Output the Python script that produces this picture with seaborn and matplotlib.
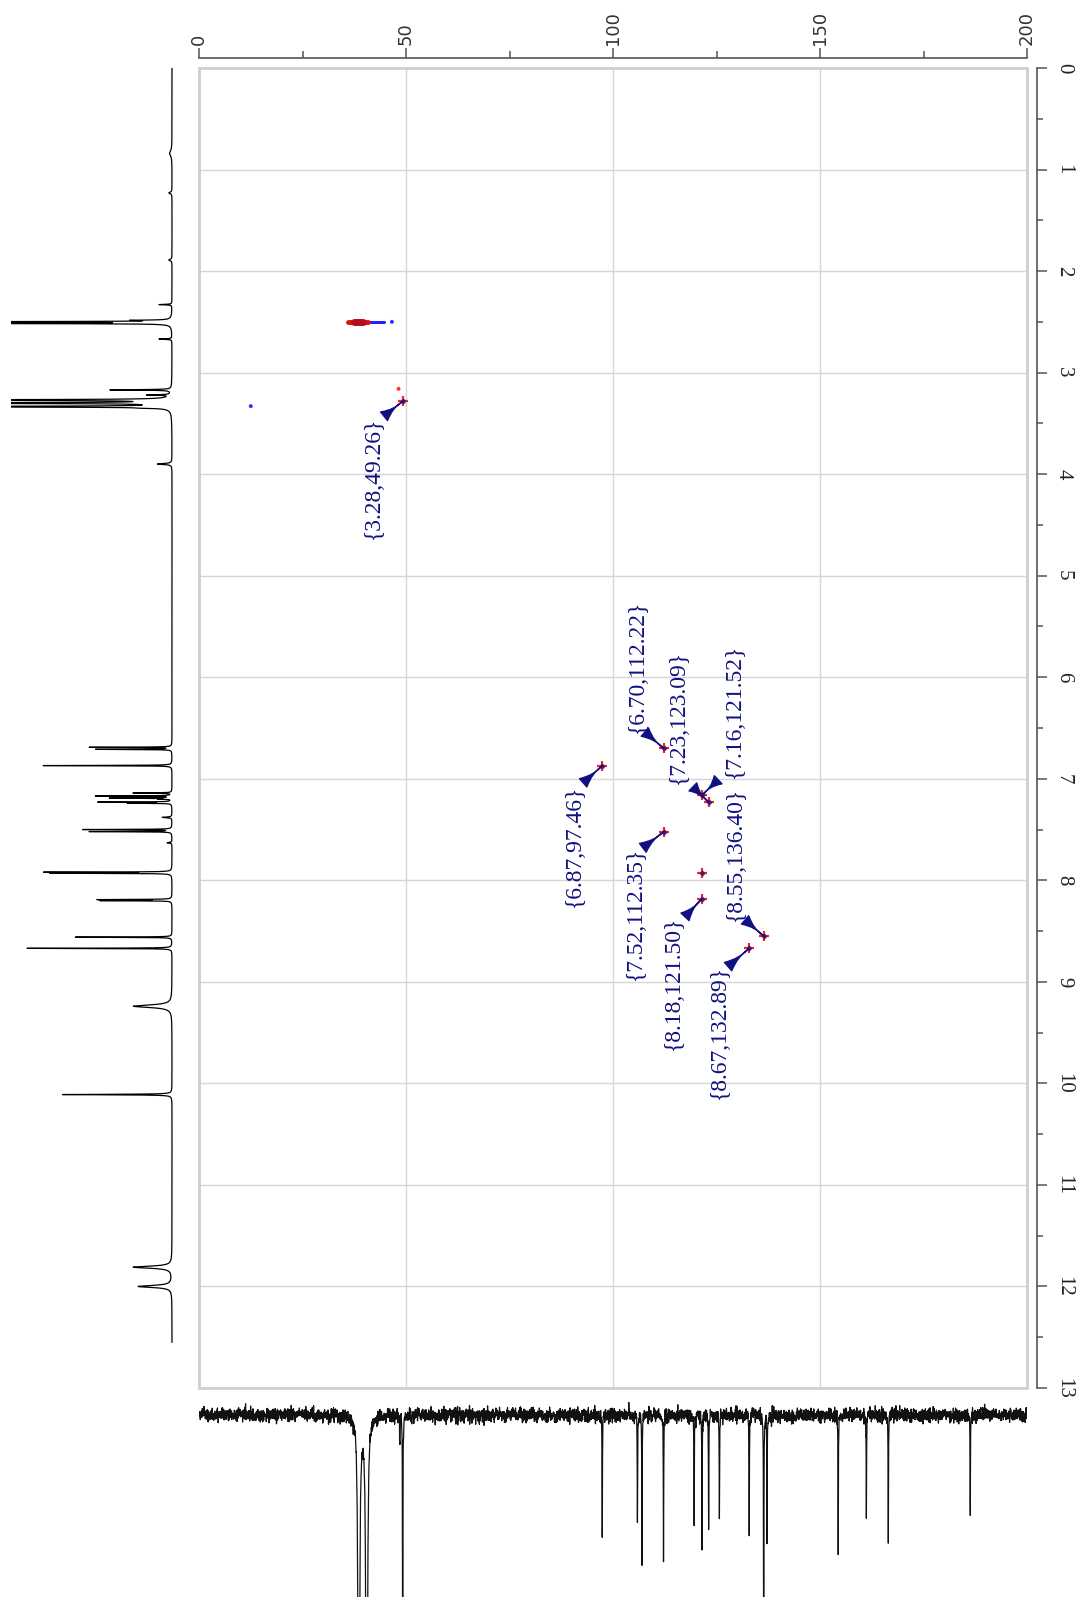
import numpy as np
import pandas as pd
import matplotlib
matplotlib.use("Agg")
import matplotlib.pyplot as plt
import seaborn as sns
from matplotlib.ticker import MultipleLocator
from matplotlib.patches import Rectangle

# ---------------- data ----------------
# 1H projection: peak positions (ppm), heights (relative), half widths (ppm)
h1_ppm = [0.84, 1.23, 1.89, 2.33, 2.485, 2.50, 2.515, 2.67, 3.17, 3.22, 3.27, 3.30,
          3.335, 3.35, 3.90, 6.69, 6.71, 6.87, 7.14, 7.17, 7.19, 7.20, 7.23, 7.24,
          7.38, 7.50, 7.52, 7.63, 7.92, 7.93, 8.19, 8.20, 8.56, 8.67, 9.24, 10.11,
          11.81, 12.00]
h1_height = [1.5, 2.0, 2.0, 8, 20, 300, 250, 8, 38, 14, 300, 300,
             300, 9, 9, 51, 47, 80, 24, 47, 38, 7, 45, 26,
             6, 55, 51, 3, 77, 73, 45, 43, 60, 90, 24, 68,
             24, 21]
h1_hwhm = [0.03, 0.008, 0.008, 0.003, 0.003, 0.002, 0.002, 0.003, 0.003, 0.003, 0.003, 0.003,
           0.003, 0.003, 0.006, 0.002, 0.002, 0.002, 0.002, 0.002, 0.002, 0.002, 0.002, 0.002,
           0.004, 0.002, 0.002, 0.004, 0.002, 0.002, 0.002, 0.002, 0.002, 0.002, 0.015, 0.003,
           0.012, 0.012]

# 13C projection (drawn downward): positions (ppm), depths (relative)
c13_ppm = [38.6, 40.5, 48.5, 49.2, 97.4, 105.9, 107.0, 112.2, 119.6, 121.5, 123.1,
           125.7, 132.9, 136.4, 137.2, 154.4, 161.2, 166.5, 186.3]
c13_depth = [400, 400, 18, 150, 70, 60, 82, 81, 59, 75, 64,
             57, 66, 150, 66, 74, 56, 66, 53]
c13_hwhm = [0.15, 0.15, 0.05, 0.05, 0.05, 0.05, 0.05, 0.05, 0.05, 0.05, 0.05,
            0.05, 0.05, 0.05, 0.05, 0.05, 0.05, 0.05, 0.05]

# labelled HSQC correlations {1H, 13C}
cross_h = [3.28, 6.87, 6.70, 7.23, 7.16, 7.52, 8.18, 8.55, 8.67]
cross_c = [49.26, 97.46, 112.22, 123.09, 121.52, 112.35, 121.50, 136.40, 132.89]
# label centres (13C ppm, 1H ppm)
label_c = [42.0, 90.6, 105.9, 115.9, 129.2, 105.3, 114.5, 129.5, 125.8]
label_h = [4.04, 7.66, 5.89, 6.39, 6.33, 8.33, 9.01, 7.74, 9.49]
# pointer tails (13C ppm, 1H ppm)
tail_c = [44.7, 92.8, 107.7, 119.3, 125.4, 107.2, 117.4, 131.9, 127.8]
tail_h = [3.43, 7.04, 6.54, 7.08, 7.01, 7.68, 8.36, 8.39, 8.85]

# unlabelled correlations
extra_h = [7.93]
extra_c = [121.5]
# weak responses (phase: positive = red, negative = blue)
weak_h = [3.16, 3.33, 2.50]
weak_c = [48.2, 12.5, 46.6]
weak_sign = ["pos", "neg", "neg"]
# solvent ridge (DMSO) extent in 13C for each phase
dmso_h = 2.50
dmso_red = [36.1, 40.8]
dmso_blue = [39.8, 44.6]

# axis ticks
c_ticks = [0, 50, 100, 150, 200]
h_ticks = list(range(14))

NAVY = "#101080"

# ---------------- figure ----------------
W, H = 1082, 1597
fig = plt.figure(figsize=(W / 100, H / 100), dpi=100)


def frac(x0, y0, x1, y1):
    return [x0 / W, 1 - y1 / H, (x1 - x0) / W, (y1 - y0) / H]


# main 2D panel
ax = fig.add_axes(frac(199, 68, 1027, 1388))
ax.grid(True, color="#d6d6d6", lw=1.0)
ax.set_axisbelow(True)
ax.xaxis.tick_top()
ax.yaxis.tick_right()
for s in ["left", "bottom"]:
    ax.spines[s].set_visible(False)
for s in ["top", "right"]:
    ax.spines[s].set_position(("outward", 7))
    ax.spines[s].set_color("#555555")
    ax.spines[s].set_linewidth(1.2)
ax.add_patch(Rectangle((0, 0), 1, 1, transform=ax.transAxes, fill=False,
                       edgecolor="#cfcfcf", lw=2.0, clip_on=False, zorder=1))

# solvent ridge
ax.plot(dmso_blue, [dmso_h, dmso_h], color="#2020ff", lw=2.2, solid_capstyle="round", zorder=3)
ax.plot(dmso_red, [dmso_h, dmso_h], color="#e01010", lw=3.5, solid_capstyle="round", zorder=4)
ax.plot([37.5, 39.5], [dmso_h, dmso_h], color="#b01020", lw=5, solid_capstyle="round", zorder=4)

weak = pd.DataFrame({"c": weak_c, "h": weak_h, "phase": weak_sign})
sns.scatterplot(data=weak, x="c", y="h", hue="phase",
                palette={"pos": "#ff3030", "neg": "#3030ff"},
                s=8, linewidth=0, legend=False, ax=ax, zorder=4)

peaks = pd.DataFrame({"c": cross_c + extra_c, "h": cross_h + extra_h})
sns.scatterplot(data=peaks, x="c", y="h", marker="+", s=60, color="#ff2020",
                linewidth=1.6, legend=False, ax=ax, zorder=5)
sns.scatterplot(data=peaks, x="c", y="h", marker="D", s=10, color="#402070",
                linewidth=0, legend=False, ax=ax, zorder=6)

for hh, cc, lc, lh, tc, th in zip(cross_h, cross_c, label_c, label_h, tail_c, tail_h):
    ax.text(lc, lh, "{%.2f,%.2f}" % (hh, cc), rotation=90, ha="center",
            va="center", color=NAVY, fontsize=17, family="Liberation Serif",
            zorder=7)
    ax.annotate("", xy=(cc, hh), xytext=(tc, th), zorder=7,
                arrowprops=dict(arrowstyle="wedge,tail_width=0.8,shrink_factor=0.1",
                                color=NAVY, shrinkA=0, shrinkB=0,
                                mutation_scale=10))

ax.set_xlim(0, 200)
ax.set_ylim(13, 0)
ax.set_xlabel("")
ax.set_ylabel("")
ax.set_xticks(c_ticks)
ax.set_xticklabels([str(v) for v in c_ticks], rotation=90, family="DejaVu Sans",
                   fontsize=13, color="#333333")
ax.xaxis.set_minor_locator(MultipleLocator(25))
ax.set_yticks(h_ticks)
ax.set_yticklabels([str(v) for v in h_ticks], rotation=-90, va="center",
                   family="Liberation Serif", fontsize=15, color="#222222")
ax.yaxis.set_minor_locator(MultipleLocator(0.5))
ax.tick_params(axis="x", which="major", direction="out", length=7.5, width=1.1,
               color="#555555", pad=2)
ax.tick_params(axis="x", which="minor", direction="out", length=5, width=1.1,
               color="#555555")
ax.tick_params(axis="y", which="major", direction="out", length=7.5, width=1.1,
               color="#555555", pad=5)
ax.tick_params(axis="y", which="minor", direction="out", length=4.5, width=1.1,
               color="#555555")

# ---------------- 1H projection (left) ----------------
axh = fig.add_axes(frac(11, 68, 180, 1388))
ppm_h = np.union1d(np.arange(0.0, 12.55, 0.001), h1_ppm)
inten_h = np.zeros_like(ppm_h)
for p, a, w in zip(h1_ppm, h1_height, h1_hwhm):
    inten_h += a * w ** 2 / (w ** 2 + (ppm_h - p) ** 2)
dfh = pd.DataFrame({"ppm": ppm_h, "intensity": inten_h})
sns.lineplot(data=dfh, x="intensity", y="ppm", sort=False, estimator=None,
             color="black", lw=0.9, ax=axh)
axh.set_ylim(13, 0)
axh.set_xlim(100, -4.97)
axh.axis("off")

# ---------------- 13C projection (bottom) ----------------
axc = fig.add_axes(frac(199, 1395, 1027, 1597))
ppm_c = np.union1d(np.arange(0.0, 200.0, 0.045), c13_ppm)
inten_c = np.zeros_like(ppm_c)
for p, a, w in zip(c13_ppm, c13_depth, c13_hwhm):
    inten_c += a * w ** 2 / (w ** 2 + (ppm_c - p) ** 2)
# baseline noise of the carbon trace
rng = np.random.default_rng(7)
inten_c += rng.normal(0, 1.9, ppm_c.size)
dfc = pd.DataFrame({"ppm": ppm_c, "depth": inten_c})
sns.lineplot(data=dfc, x="ppm", y="depth", sort=False, estimator=None,
             color="#111111", lw=0.9, ax=axc)
axc.set_xlim(0, 200)
axc.set_ylim(100, -11)
axc.axis("off")

fig.savefig("out.png", dpi=100)
